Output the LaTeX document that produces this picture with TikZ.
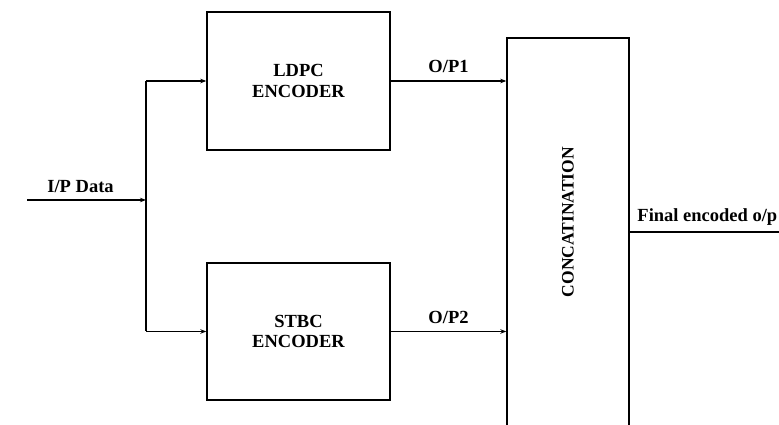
\documentclass[tikz,border=0pt]{standalone}
\usepackage{fontspec}
\setmainfont{Liberation Serif}
\usetikzlibrary{calc, positioning, arrows.meta}

\begin{document}
\begin{tikzpicture}[
  x=1pt, y=1pt,
  font=\fontsize{18.5}{20.5}\selectfont\bfseries,
  block/.style={draw, line width=1.4pt, rectangle, align=center,
    minimum width=183pt},
  arw/.style={-{Stealth[length=6pt, width=4.5pt]}, line width=1.4pt},
  wire/.style={line width=1.4pt},
]
\useasboundingbox (0,0) rectangle (779,425);

% Encoder blocks
\node[block, minimum height=138pt] (ldpc) at (298.5,344) {LDPC\\ENCODER};
\node[block, minimum height=137pt] (stbc) at (298.5,93.5) {STBC\\ENCODER};

% Concatenation block (runs off the bottom)
\node[block, minimum width=122pt, minimum height=402pt] (concat) at (568,186) {};
\node[rotate=90, font=\fontsize{17.5}{20}\selectfont\bfseries] (cname)
  at (568,203) {CONCATINATION};

% Input and output ends
\coordinate (in) at (27,225);
\coordinate (split) at (146,225);
\coordinate (out) at (779,193);

% Connectors
\draw[arw] (in) -- node[above=3pt, pos=0.45] (ipl) {I/P Data} (split);
\draw[wire] (split |- ldpc.west) -- (split |- stbc.west);
\draw[arw] (split |- ldpc.west) -- (ldpc.west);
\draw[arw] (split |- stbc.west) -- (stbc.west);
\draw[arw] (ldpc.east) -- node[above=4pt] (op1) {O/P1} (concat.west |- ldpc.east);
\draw[arw] (stbc.east) -- node[above=4pt] (op2) {O/P2} (concat.west |- stbc.east);
\draw[wire] (concat.east |- out) -- node[above=3pt, xshift=3pt] (fout) {Final encoded o/p} (out);
\end{tikzpicture}
\end{document}
